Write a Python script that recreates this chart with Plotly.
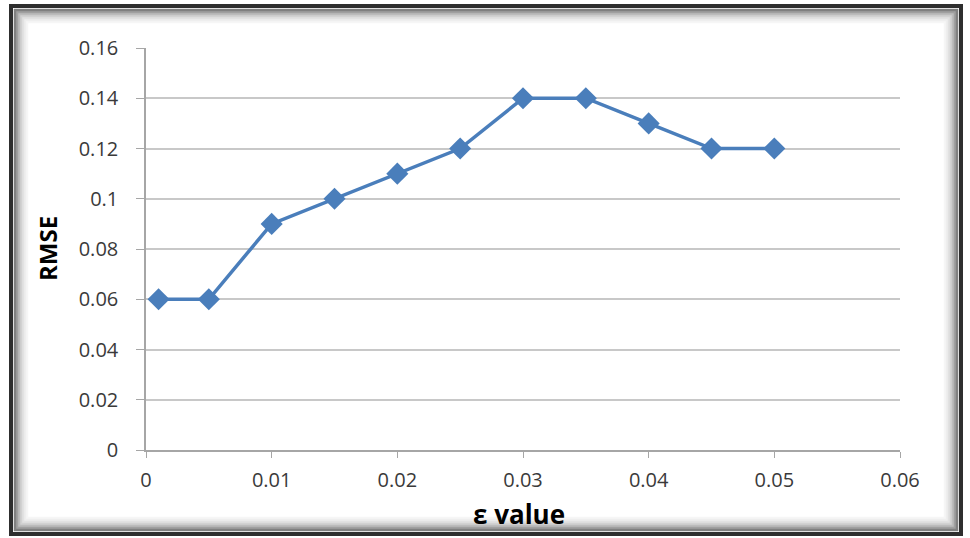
import plotly.graph_objects as go

eps_values = [0.001, 0.005, 0.01, 0.015, 0.02, 0.025, 0.03, 0.035, 0.04, 0.045, 0.05]
rmse_values = [0.06, 0.06, 0.09, 0.10, 0.11, 0.12, 0.14, 0.14, 0.13, 0.12, 0.12]
x_ticks = [0, 0.01, 0.02, 0.03, 0.04, 0.05, 0.06]
x_tick_labels = ["0", "0.01", "0.02", "0.03", "0.04", "0.05", "0.06"]
y_ticks = [0, 0.02, 0.04, 0.06, 0.08, 0.1, 0.12, 0.14, 0.16]
y_tick_labels = ["0", "0.02", "0.04", "0.06", "0.08", "0.1", "0.12", "0.14", "0.16"]

W, H = 970, 538
L, R, T, B = 146, 70, 48, 88
pw, ph = W - L - R, H - T - B

def px(x):
    return (x - L) / pw

def py(y):
    return (H - B - y) / ph

fig = go.Figure()
fig.add_trace(go.Scatter(
    x=eps_values, y=rmse_values, mode="lines+markers",
    line=dict(color="#4a7ebb", width=3.5),
    marker=dict(symbol="diamond", size=17, color="#4a7ebb"),
    showlegend=False,
))

# frame with soft inner shadow
shapes = []
shadow_cols = ["#f6f6f6", "#eeeeee", "#e2e2e2", "#d2d2d2", "#bcbcbc", "#a0a0a0", "#808080"]
n = len(shadow_cols)
for i, c in enumerate(shadow_cols):
    off = 2 * (n - i) + 2
    shapes.append(dict(type="rect", xref="paper", yref="paper",
                       x0=px(11 + off), x1=px(961 - off), y0=py(6 + off), y1=py(534 - off),
                       line=dict(color=c, width=2.5)))
shapes.append(dict(type="rect", xref="paper", yref="paper",
                   x0=px(11), x1=px(961), y0=py(6), y1=py(534),
                   line=dict(color="#2e2e2e", width=4)))

font = "Open Sans, Liberation Sans, sans-serif"
fig.update_layout(
    width=W, height=H,
    margin=dict(l=L, r=R, t=T, b=B),
    paper_bgcolor="white", plot_bgcolor="white",
    font=dict(family=font, size=20, color="#3a3a3a"),
    xaxis=dict(range=[0, 0.06], tickvals=x_ticks, ticktext=x_tick_labels,
               showgrid=False, zeroline=False, showline=True, linecolor="#a6a6a6",
               linewidth=1.5, ticks="outside", ticklen=6, tickcolor="#a6a6a6",
               ticklabelstandoff=5, fixedrange=True),
    yaxis=dict(range=[0, 0.16], tickvals=y_ticks, ticktext=y_tick_labels,
               showgrid=True, gridcolor="#c8c8c8", gridwidth=1.5, zeroline=False,
               showline=True, linecolor="#a6a6a6", linewidth=1.5,
               ticks="outside", ticklen=8, tickcolor="#a6a6a6",
               ticklabelstandoff=14, fixedrange=True),
    annotations=[
        dict(text="<b>RMSE</b>", x=px(47), y=py(249), xref="paper", yref="paper",
             xanchor="center", yanchor="middle",
             textangle=-90, showarrow=False, font=dict(size=24, color="#000000")),
        dict(text="<b>ε value</b>", x=px(519), y=py(514), xref="paper", yref="paper",
             xanchor="center", yanchor="middle",
             showarrow=False, font=dict(size=26, color="#000000")),
    ],
    shapes=shapes,
)

fig.write_html("out.html", config={"displayModeBar": False},
               post_script="document.body.style.margin='0';document.body.style.overflow='hidden';")
